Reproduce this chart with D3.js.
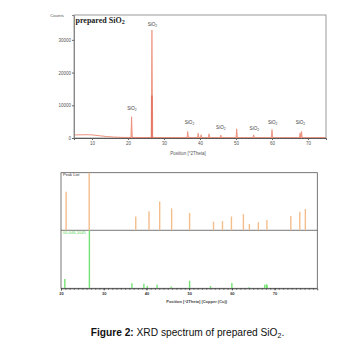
<!DOCTYPE html>
<html>
<head>
<meta charset="utf-8">
<script src="https://cdn.jsdelivr.net/npm/d3@7"></script>
<style>
  body { margin: 0; background: #fff; }
  svg { display: block; }
</style>
</head>
<body>
<svg id="chart" width="353" height="350"></svg>
<script>
// top pattern: background curve and peaks (2Theta, counts)
const bgPos = [5, 7, 9, 10, 12, 14, 16, 18, 20, 25, 30, 40, 50, 60, 70, 75];
const bgCounts = [950, 980, 1000, 950, 700, 450, 300, 200, 170, 150, 130, 110, 100, 90, 90, 90];
const peakPos = [21.0, 26.65, 36.6, 39.5, 40.3, 42.5, 45.8, 50.2, 54.9, 60.0, 64.0, 67.8, 68.2, 73.5];
const peakCounts = [6500, 33000, 2000, 1500, 1000, 1300, 900, 2800, 1000, 2600, 250, 1600, 2000, 300];
const corePos = [26.65];
const coreCounts = [13000];
const labelPos = [21.1, 26.8, 37.1, 45.8, 55.1, 60.2, 67.9];
const labelCounts = [8870, 34550, 4590, 3060, 2750, 4590, 4590];
const countTicks = [0, 10000, 20000, 30000];
const thetaTicks = [10, 20, 30, 40, 50, 60, 70];

// bottom: peak list and reference pattern 00-046-1045 (relative intensity)
const listPos = [21.2, 26.6, 37.5, 40.6, 43.1, 45.9, 50.1, 55.7, 57.8, 59.9, 62.7, 64.1, 66.2, 68.2, 73.8, 75.9, 77.2];
const listInt = [67, 100, 24, 33, 50, 38, 30, 15, 16, 24, 28, 11, 14, 18, 25, 32, 37];
const refPos = [20.9, 26.65, 36.6, 39.4, 40.2, 42.5, 45.8, 50.1, 55.0, 60.0, 64.0, 67.7, 68.1, 68.3];
const refInt = [16, 100, 8.6, 8, 4, 6, 3, 13, 4, 9, 2, 6, 7, 5];
const refTicks = [20, 30, 40, 50, 60, 70];

const svg = d3.select("#chart");

// ---------- top chart ----------
const x1 = d3.scaleLinear().domain([5, 75]).range([74, 326]);
const y1 = d3.scaleLinear().domain([0, 37600]).range([138, 15]);

// frame
svg.append("rect")
    .attr("x", 74).attr("y", 15)
    .attr("width", 252).attr("height", 123)
    .attr("fill", "none")
    .attr("stroke", "#999")
    .attr("stroke-width", 1);

// background
const bgLine = d3.line().x(d => x1(d[0])).y(d => y1(d[1]));
svg.append("path")
    .attr("d", bgLine(d3.zip(bgPos, bgCounts)))
    .attr("fill", "none")
    .attr("stroke", "#e8765c")
    .attr("stroke-width", 0.8);

// peaks
const peakHalf = 0.22;
peakPos.forEach((p, i) => {
    const pts = [[p - peakHalf, 0], [p, peakCounts[i]], [p + peakHalf, 0]];
    svg.append("path")
        .attr("d", bgLine(pts))
        .attr("fill", "#f6b4a6")
        .attr("stroke", "#e8765c")
        .attr("stroke-width", 0.6);
});
corePos.forEach((p, i) => {
    svg.append("line")
        .attr("x1", x1(p)).attr("x2", x1(p))
        .attr("y1", y1(0)).attr("y2", y1(coreCounts[i]))
        .attr("stroke", "#d9503a")
        .attr("stroke-width", 0.9);
});

// peak labels
labelPos.forEach((p, i) => {
    const t = svg.append("text")
        .attr("x", x1(p)).attr("y", y1(labelCounts[i]))
        .attr("text-anchor", "middle")
        .attr("dominant-baseline", "middle")
        .attr("font-family", "Liberation Sans, Arial, sans-serif")
        .attr("font-size", 4.6)
        .attr("fill", "#444");
    t.append("tspan").text("SiO");
    t.append("tspan").attr("font-size", 3.4).attr("dy", 0.8).text("2");
});

// axes
const yAxis1 = svg.append("g")
    .attr("transform", "translate(74,0)")
    .call(d3.axisLeft(y1).tickValues(countTicks).tickSize(2).tickFormat(d3.format("d")));
const xAxis1 = svg.append("g")
    .attr("transform", "translate(0,138)")
    .call(d3.axisBottom(x1).tickValues(thetaTicks).tickSize(2).tickFormat(d3.format("d")));
svg.append("g")
    .attr("transform", "translate(0,138)")
    .call(d3.axisBottom(x1).tickValues(d3.range(6, 75, 1)).tickSize(1).tickFormat(""))
    .call(g => g.select(".domain").remove())
    .selectAll("line").attr("stroke", "#666");

[yAxis1, xAxis1].forEach(g => {
    g.select(".domain").attr("stroke", "#888");
    g.selectAll(".tick line").attr("stroke", "#666");
    g.selectAll("text")
        .attr("font-family", "Liberation Sans, Arial, sans-serif")
        .attr("font-size", 4.5)
        .attr("fill", "#555");
});
xAxis1.select(".domain").attr("stroke", "#555");
yAxis1.selectAll("text").attr("x", -3);
xAxis1.selectAll("text").attr("y", 4);

svg.append("text")
    .attr("x", 57).attr("y", 17)
    .attr("text-anchor", "middle")
    .attr("font-family", "Liberation Sans, Arial, sans-serif")
    .attr("font-size", 4.3)
    .attr("fill", "#555")
    .text("Counts");

const title = svg.append("text")
    .attr("x", 75.5).attr("y", 23)
    .attr("font-family", "Liberation Serif, Times New Roman, serif")
    .attr("font-weight", "bold")
    .attr("font-size", 8)
    .attr("fill", "#222");
title.append("tspan").text("prepared SiO");
title.append("tspan").attr("font-size", 6).attr("dy", 1.2).text("2");

svg.append("text")
    .attr("x", 188).attr("y", 154.5)
    .attr("text-anchor", "middle")
    .attr("font-family", "Liberation Sans, Arial, sans-serif")
    .attr("font-size", 4.5)
    .attr("fill", "#555")
    .text("Position [°2Theta]");

// ---------- bottom chart ----------
const x2 = d3.scaleLinear().domain([20, 80]).range([61, 317.3]);
const yList = d3.scaleLinear().domain([0, 100]).range([230.3, 172.7]);
const yRef = d3.scaleLinear().domain([0, 100]).range([288.3, 230.3]);

svg.append("rect")
    .attr("x", 61).attr("y", 172.7)
    .attr("width", 256.3).attr("height", 115.6)
    .attr("fill", "none")
    .attr("stroke", "#555")
    .attr("stroke-width", 0.8);
svg.append("line")
    .attr("x1", 61).attr("x2", 317.3)
    .attr("y1", 230.3).attr("y2", 230.3)
    .attr("stroke", "#555")
    .attr("stroke-width", 0.8);

svg.selectAll(".listBar")
    .data(d3.zip(listPos, listInt))
    .join("line")
    .attr("class", "listBar")
    .attr("x1", d => x2(d[0])).attr("x2", d => x2(d[0]))
    .attr("y1", yList(0)).attr("y2", d => yList(d[1]))
    .attr("stroke", "#f3bd8c")
    .attr("stroke-width", 1.4);

svg.selectAll(".refBar")
    .data(d3.zip(refPos, refInt))
    .join("line")
    .attr("class", "refBar")
    .attr("x1", d => x2(d[0])).attr("x2", d => x2(d[0]))
    .attr("y1", yRef(0)).attr("y2", d => yRef(d[1]))
    .attr("stroke", "#74e374")
    .attr("stroke-width", 1.4);

const xAxis2 = svg.append("g")
    .attr("transform", "translate(0,288.3)")
    .call(d3.axisBottom(x2).tickValues(refTicks).tickSize(2).tickFormat(d3.format("d")));
xAxis2.select(".domain").attr("stroke", "#555");
xAxis2.selectAll(".tick line").attr("stroke", "#444");
xAxis2.selectAll("text")
    .attr("y", 3.5)
    .attr("font-family", "Liberation Sans, Arial, sans-serif")
    .attr("font-size", 4)
    .attr("font-weight", "bold")
    .attr("fill", "#333");
svg.append("g")
    .attr("transform", "translate(0,288.3)")
    .call(d3.axisBottom(x2).tickValues(d3.range(21, 80, 1)).tickSize(1.2).tickFormat(""))
    .call(g => g.select(".domain").remove())
    .selectAll("line").attr("stroke", "#444");

svg.append("text")
    .attr("x", 63).attr("y", 176)
    .attr("font-family", "Liberation Sans, Arial, sans-serif")
    .attr("font-size", 4)
    .attr("fill", "#333")
    .text("Peak List");
svg.append("text")
    .attr("x", 63).attr("y", 234)
    .attr("font-family", "Liberation Sans, Arial, sans-serif")
    .attr("font-size", 4)
    .attr("fill", "#4fd44f")
    .text("00-046-1045");

svg.append("text")
    .attr("x", 196.7).attr("y", 303)
    .attr("text-anchor", "middle")
    .attr("font-family", "Liberation Sans, Arial, sans-serif")
    .attr("font-size", 4)
    .attr("font-weight", "bold")
    .attr("fill", "#444")
    .text("Position [°2Theta] (Copper (Cu))");

// ---------- caption ----------
const cap = svg.append("text")
    .attr("x", 90.7).attr("y", 336)
    .attr("font-family", "Liberation Sans, Arial, sans-serif")
    .attr("font-size", 10.2)
    .attr("fill", "#111");
cap.append("tspan").attr("font-weight", "bold").text("Figure 2:");
cap.append("tspan").text(" XRD spectrum of prepared SiO");
cap.append("tspan").attr("font-size", 7).attr("dy", 2).text("2");
cap.append("tspan").attr("dy", -2).text(".");
</script>
</body>
</html>
